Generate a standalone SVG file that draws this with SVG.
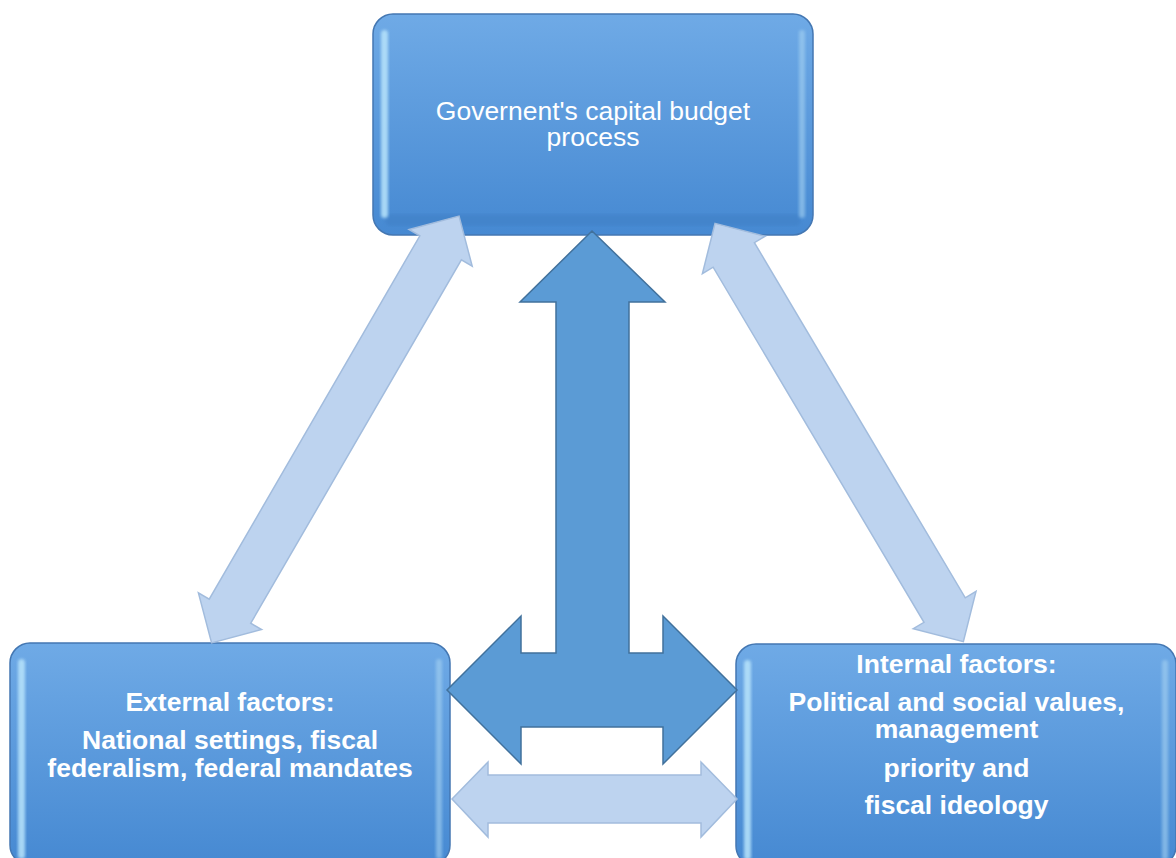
<svg xmlns="http://www.w3.org/2000/svg" width="1176" height="858" viewBox="0 0 1176 858">
<defs>
<linearGradient id="face" x1="0" y1="0" x2="0" y2="1">
<stop offset="0" stop-color="#6FAAE6"/>
<stop offset="1" stop-color="#4689D2"/>
</linearGradient>
<filter id="soft" x="-20%" y="-5%" width="140%" height="110%">
<feGaussianBlur stdDeviation="1.5"/>
</filter>
<style>
.box{fill:url(#face);stroke:#4477B2;stroke-width:1.5}
.hl{fill:#B8E4FB;opacity:0.85}
.hr{fill:#A6D3F2;opacity:0.6}
.bot{fill:#3E7DC2;opacity:0.45}
.t{font-family:"Liberation Sans",Arial,sans-serif;font-size:26.5px;fill:#FFFFFF;text-anchor:middle}
.b{font-weight:bold}
.light{fill:#BDD3EF;stroke:#A2BCDD;stroke-width:1.5}
.dark{fill:#5B9BD5;stroke:#41719C;stroke-width:1.5}
</style>
</defs>
<rect width="1176" height="858" fill="#FFFFFF"/>
<g id="node-top">
<rect class="box" x="373" y="14" width="440" height="221" rx="20"/>
<rect class="bot" x="385" y="214" width="416" height="12" rx="6" filter="url(#soft)"/>
<rect class="hl" x="381" y="30" width="7" height="188" rx="3.5" filter="url(#soft)"/>
<rect class="hr" x="799" y="30" width="6" height="188" rx="3" filter="url(#soft)"/>
<text class="t" x="593" y="120">Governent's capital budget</text>
<text class="t" x="593" y="146">process</text>
</g>
<g id="node-external">
<rect class="box" x="10" y="643" width="440" height="222" rx="20"/>
<rect class="hl" x="18" y="659" width="7" height="200" rx="3.5" filter="url(#soft)"/>
<rect class="hr" x="436" y="659" width="6" height="200" rx="3" filter="url(#soft)"/>
<text class="t b" x="230" y="711">External factors:</text>
<text class="t b" x="230" y="749">National settings, fiscal</text>
<text class="t b" x="230" y="777">federalism, federal mandates</text>
</g>
<g id="node-internal">
<rect class="box" x="736" y="644" width="440" height="222" rx="20"/>
<rect class="hl" x="744" y="660" width="7" height="200" rx="3.5" filter="url(#soft)"/>
<rect class="hr" x="1162" y="660" width="6" height="200" rx="3" filter="url(#soft)"/>
<text class="t b" x="956.5" y="673">Internal factors:</text>
<text class="t b" x="956.5" y="711">Political and social values,</text>
<text class="t b" x="956.5" y="738">management</text>
<text class="t b" x="956.5" y="777">priority and</text>
<text class="t b" x="956.5" y="814">fiscal ideology</text>
</g>
<g id="connectors">
<path class="light" transform="translate(335.3,429.5) rotate(-59.9)" d="M-246.7,0 L-210,-36.5 L-210,-24 L210,-24 L210,-36.5 L246.7,0 L210,36.5 L210,24 L-210,24 L-210,36.5 Z"/>
<path class="light" transform="translate(839.2,432.5) rotate(59.3)" d="M-243.2,0 L-206.5,-36.5 L-206.5,-24 L206.5,-24 L206.5,-36.5 L243.2,0 L206.5,36.5 L206.5,24 L-206.5,24 L-206.5,36.5 Z"/>
<path class="light" d="M452,799 L488,762 L488,775 L701,775 L701,762 L737,799 L701,837 L701,823 L488,823 L488,837 Z"/>
<path class="dark" d="M592,231 L665,302 L629,302 L629,653 L663,653 L663,616 L737,690 L663,764 L663,727 L521,727 L521,764 L447,690 L521,616 L521,653 L556,653 L556,302 L520,302 Z"/>
</g>
</svg>
